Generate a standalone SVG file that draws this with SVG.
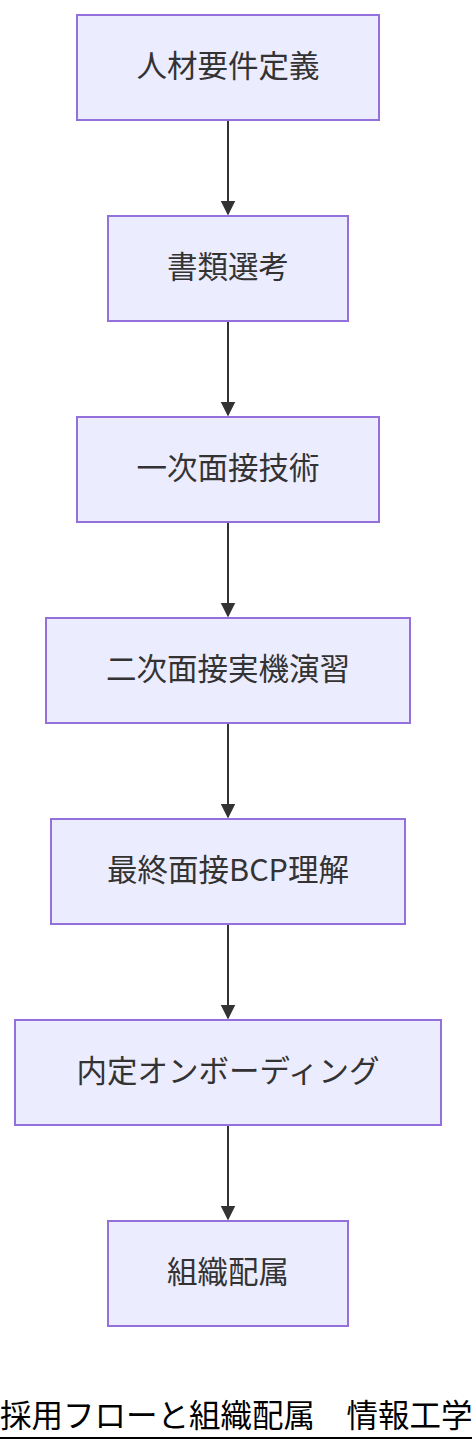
<svg xmlns="http://www.w3.org/2000/svg" width="472" height="1452" viewBox="0 0 472 1452">
<style>
.node rect{fill:#ECECFF;stroke:#9370DB;stroke-width:2}
.node text{font-family:"Noto Sans CJK JP","Noto Sans",sans-serif;font-size:30.5px;fill:#333;text-anchor:middle}
.edge{stroke:#333;stroke-width:2;fill:none}
.title{font-family:"Noto Sans CJK JP",sans-serif;font-size:31.5px;fill:#000}
</style>
<defs>
<marker id="arrow" viewBox="0 0 10 10" refX="9" refY="5" markerWidth="15" markerHeight="16" markerUnits="userSpaceOnUse" orient="auto">
<path d="M0,0 L10,5 L0,10 z" fill="#333"/>
</marker>
</defs>
<rect width="472" height="1452" fill="#fff"/>
<g id="edges">
<line class="edge" x1="228" y1="120" x2="228" y2="214" marker-end="url(#arrow)"/>
<line class="edge" x1="228" y1="321" x2="228" y2="415" marker-end="url(#arrow)"/>
<line class="edge" x1="228" y1="522" x2="228" y2="616" marker-end="url(#arrow)"/>
<line class="edge" x1="228" y1="723" x2="228" y2="817" marker-end="url(#arrow)"/>
<line class="edge" x1="228" y1="924" x2="228" y2="1018" marker-end="url(#arrow)"/>
<line class="edge" x1="228" y1="1125" x2="228" y2="1219" marker-end="url(#arrow)"/>
</g>
<g id="n1" class="node"><rect x="77" y="15" width="302" height="105"/><text x="228" y="77">人材要件定義</text></g>
<g id="n2" class="node"><rect x="108" y="216" width="240" height="105"/><text x="228" y="278">書類選考</text></g>
<g id="n3" class="node"><rect x="77" y="417" width="302" height="105"/><text x="228" y="479">一次面接技術</text></g>
<g id="n4" class="node"><rect x="46" y="618" width="364" height="105"/><text x="228" y="680">二次面接実機演習</text></g>
<g id="n5" class="node"><rect x="51" y="819" width="354" height="105"/><text x="228" y="881">最終面接BCP理解</text></g>
<g id="n6" class="node"><rect x="15" y="1020" width="426" height="105"/><text x="228" y="1082">内定オンボーディング</text></g>
<g id="n7" class="node"><rect x="108" y="1221" width="240" height="105"/><text x="228" y="1283">組織配属</text></g>
<g id="title">
<text class="title" x="0" y="1427">採用フローと組織配属　情報工学</text>
<line x1="0" y1="1438" x2="472" y2="1438" stroke="#000" stroke-width="2"/>
</g>
</svg>
